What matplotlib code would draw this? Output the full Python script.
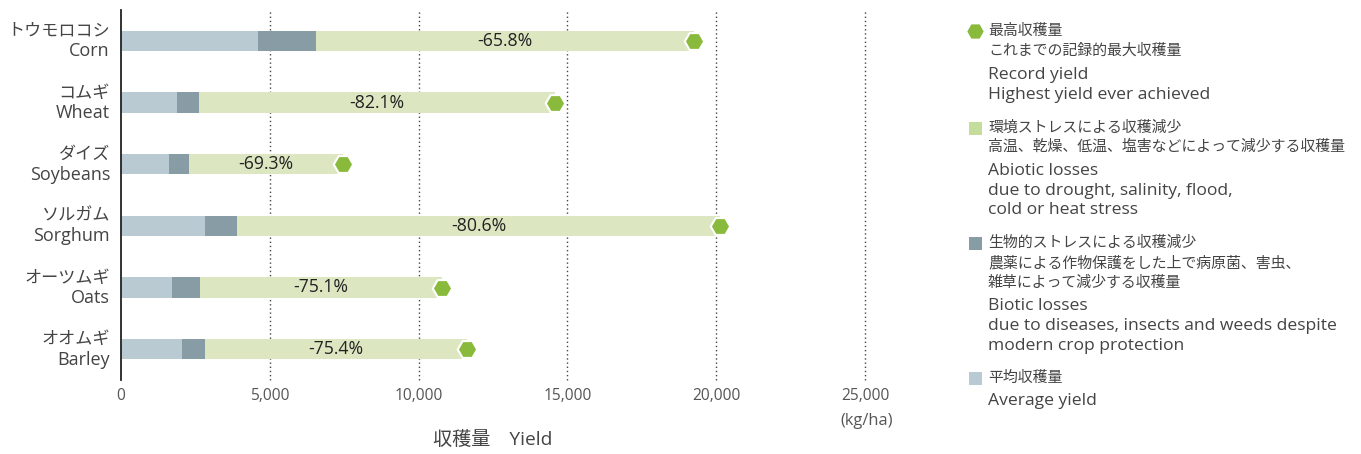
import matplotlib
matplotlib.use("Agg")
import matplotlib.pyplot as plt
from matplotlib.lines import Line2D
from matplotlib.patches import Rectangle
from matplotlib.transforms import blended_transform_factory, offset_copy

plt.rcParams['font.family'] = ['Open Sans', 'Noto Sans CJK JP', 'DejaVu Sans']

crops_jp = ["トウモロコシ", "コムギ", "ダイズ", "ソルガム", "オーツムギ", "オオムギ"]
crops_en = ["Corn", "Wheat", "Soybeans", "Sorghum", "Oats", "Barley"]
average_yield = [4600, 1880, 1610, 2820, 1710, 2050]
after_biotic = [6550, 2620, 2290, 3900, 2650, 2820]
record_yield = [19250, 14580, 7460, 20130, 10790, 11630]
abiotic_pct = ["-65.8%", "-82.1%", "-69.3%", "-80.6%", "-75.1%", "-75.4%"]
xticks = [0, 5000, 10000, 15000, 20000, 25000]
xticklabels = ["0", "5,000", "10,000", "15,000", "20,000", "25,000"]

c_avg = "#b9cad2"
c_bio = "#889ca6"
c_abio = "#dce7c1"
c_abio_leg = "#c4dc9c"
c_rec = "#8aba3c"
txt = "#444444"

W, H = 1361, 454
fig = plt.figure(figsize=(W / 100, H / 100), dpi=100)
ax = fig.add_axes([121 / W, 1 - 380 / H, (865 - 121) / W, 370 / H])

y = list(range(len(crops_en)))
bh = 0.325
biotic = [b - a for a, b in zip(average_yield, after_biotic)]
abiotic = [r - b for b, r in zip(after_biotic, record_yield)]
ax.barh(y, average_yield, height=bh, color=c_avg, zorder=2)
ax.barh(y, biotic, left=average_yield, height=bh, color=c_bio, zorder=2)
ax.barh(y, abiotic, left=after_biotic, height=bh, color=c_abio, zorder=2)
ax.plot(record_yield, y, linestyle="none", marker="H", markersize=14,
        markerfacecolor=c_rec, markeredgecolor="white", markeredgewidth=1.5, zorder=3)
for yi, b, r, p in zip(y, after_biotic, record_yield, abiotic_pct):
    ax.text((b + r) / 2, yi, p, ha="center", va="center", fontsize=12.7,
            color="#222222", zorder=4)

ax.set_ylim(5.5, -0.5)
ax.set_xlim(0, 25000)
ax.set_xticks(xticks)
ax.set_xticklabels(xticklabels, color="#555555", fontsize=11.2)
ax.tick_params(axis="x", length=0, pad=6)
ax.set_yticks(y)
ax.set_yticklabels([])
ax.tick_params(axis="y", length=0)
trans = blended_transform_factory(fig.transFigure, ax.transData)
for yi, j, e in zip(y, crops_jp, crops_en):
    ax.text(110 / W, yi, j, transform=offset_copy(trans, fig=fig, y=6.5, units="points"),
            ha="right", va="center", fontsize=12.3, color=txt)
    ax.text(110 / W, yi, e, transform=offset_copy(trans, fig=fig, y=-7.5, units="points"),
            ha="right", va="center", fontsize=13, color=txt)
for s in ["top", "right", "bottom"]:
    ax.spines[s].set_visible(False)
ax.spines["left"].set_color("#222222")
ax.spines["left"].set_linewidth(1.3)
for xv in xticks[1:]:
    ax.axvline(xv, color="#444444", linestyle=(0, (1, 2)), linewidth=1.0,
               zorder=1, clip_on=False)

fig.text(493 / W, 1 - 440 / H, "収穫量　Yield", ha="center", va="center",
         fontsize=13.8, color=txt)
fig.text(867 / W, 1 - 421 / H, "(kg/ha)", ha="center", va="center",
         fontsize=11.8, color="#555555")

# legend
tx = 988 / W
def line(yp, s):
    size = 12.6 if s[0].isascii() else 10.75
    fig.text(tx, 1 - yp / H, s, ha="left", va="center", fontsize=size, color=txt)

fig.add_artist(Line2D([975 / W], [1 - 31 / H], marker="H", markersize=13,
                      markerfacecolor=c_rec, markeredgecolor="white", linestyle="none"))
for yp, s in [(31, "最高収穫量"), (51, "これまでの記録的最大収穫量"),
              (75, "Record yield"), (95, "Highest yield ever achieved")]:
    line(yp, s)

def square(yp, c):
    fig.add_artist(Rectangle((969 / W, 1 - (yp + 6.5) / H), 13 / W, 13 / H,
                             facecolor=c, edgecolor="none", transform=fig.transFigure))

square(128, c_abio_leg)
for yp, s in [(128, "環境ストレスによる収穫減少"),
              (147, "高温、乾燥、低温、塩害などによって減少する収穫量"),
              (171, "Abiotic losses"), (191, "due to drought, salinity, flood,"),
              (210, "cold or heat stress")]:
    line(yp, s)

square(243, c_bio)
for yp, s in [(243, "生物的ストレスによる収穫減少"),
              (264, "農薬による作物保護をした上で病原菌、害虫、"),
              (283, "雑草によって減少する収穫量"), (306, "Biotic losses"),
              (326, "due to diseases, insects and weeds despite"),
              (346, "modern crop protection")]:
    line(yp, s)

square(378, c_avg)
for yp, s in [(378, "平均収穫量"), (401, "Average yield")]:
    line(yp, s)

fig.savefig("out.png", dpi=100)
